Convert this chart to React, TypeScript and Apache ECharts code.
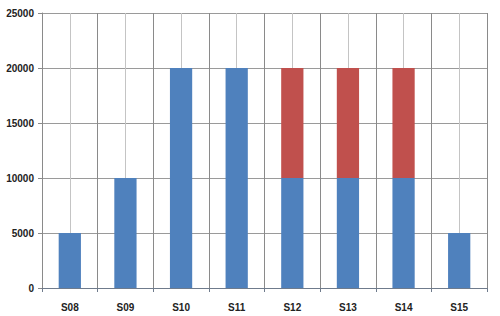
import React, { useEffect, useRef } from "react";
import * as echarts from "echarts";

const categories = ["S08", "S09", "S10", "S11", "S12", "S13", "S14", "S15"];
const blueValues = [5000, 10000, 20000, 20000, 10000, 10000, 10000, 5000];
const redValues = [0, 0, 0, 0, 10000, 10000, 10000, 0];

export default function App() {
  const ref = useRef<HTMLDivElement>(null);
  useEffect(() => {
    if (!ref.current) return;
    const chart = echarts.init(ref.current, null, { renderer: "svg" });
    const font = "'Liberation Sans', Arial, sans-serif";
    chart.setOption({
      animation: false,
      backgroundColor: "#ffffff",
      grid: { left: 42, right: 13, top: 13, bottom: 28, containLabel: false },
      xAxis: [
        {
          type: "category",
          data: categories,
          boundaryGap: true,
          axisLine: { show: true, lineStyle: { color: "#6f7b8c", width: 1 } },
          axisTick: { show: true, length: 4, alignWithLabel: false, lineStyle: { color: "#6f7b8c" } },
          axisLabel: { fontFamily: font, fontWeight: "bold", fontSize: 10, color: "#222", margin: 14 },
          splitLine: { show: false },
          z: 5,
        },
        {
          type: "value",
          min: 0,
          max: 16,
          interval: 1,
          show: true,
          position: "top",
          axisLine: { show: false },
          axisTick: { show: false },
          axisLabel: { show: false },
          splitLine: { show: true, lineStyle: { color: ["#8a8a8a", "#c4c4c4"], width: 1 } },
        },
      ],
      yAxis: {
        type: "value",
        min: 0,
        max: 25000,
        interval: 5000,
        axisLine: { show: true, lineStyle: { color: "#8a8a8a" } },
        axisTick: { show: true, length: 4, inside: false, lineStyle: { color: "#8a8a8a" } },
        axisLabel: {
          fontFamily: font,
          fontWeight: "bold",
          fontSize: 10,
          color: "#222",
          margin: 8,
          formatter: (v: number) => String(v),
        },
        splitLine: { show: true, lineStyle: { color: "#9a9a9a", width: 1 } },
      },
      series: [
        {
          type: "bar",
          stack: "s",
          data: blueValues,
          barWidth: "40%",
          xAxisIndex: 0,
          itemStyle: { color: "#4f81bd" },
        },
        {
          type: "bar",
          stack: "s",
          data: redValues,
          barWidth: "40%",
          xAxisIndex: 0,
          itemStyle: { color: "#c0504d" },
        },
      ],
    });
    return () => chart.dispose();
  }, []);
  return (
    <div
      ref={ref}
      style={{ position: "fixed", left: 0, top: 0, width: 500, height: 316 }}
    />
  );
}
